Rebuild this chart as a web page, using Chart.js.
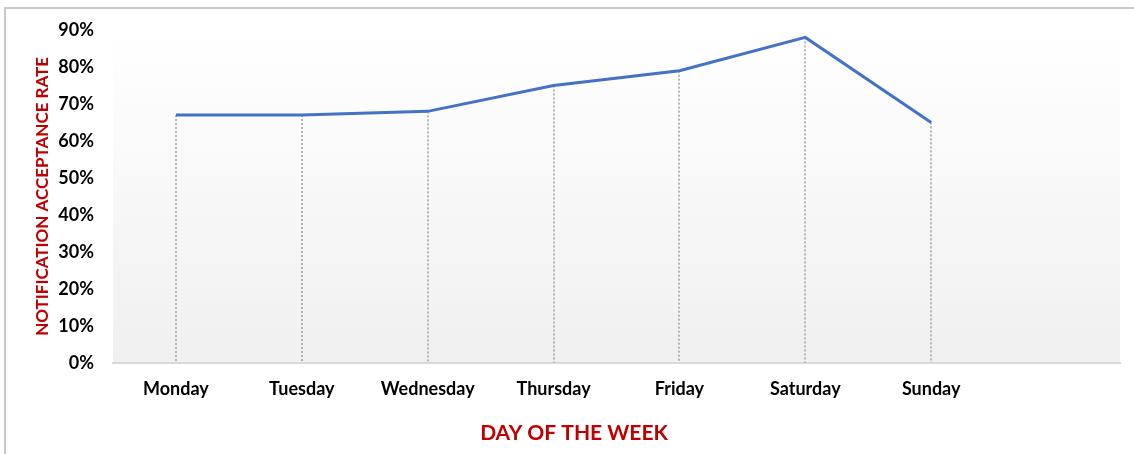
<!DOCTYPE html>
<html>
<head>
<meta charset="utf-8">
<script src="https://cdn.jsdelivr.net/npm/chart.js@4.4.1/dist/chart.umd.min.js"></script>
<style>
html,body{margin:0;padding:0;background:#fff;}
#wrap{width:1134px;height:454px;position:relative;}
</style>
</head>
<body>
<div id="wrap"><canvas id="c" width="1134" height="454"></canvas></div>
<script>
const categories = ['Monday','Tuesday','Wednesday','Thursday','Friday','Saturday','Sunday',''];
const acceptanceRate = [67, 67, 68, 75, 79, 88, 65, null];
const yTicks = [0,10,20,30,40,50,60,70,80,90];

const FONT = 'Lato, "Open Sans", sans-serif';

const bgPlugin = {
  id: 'bg',
  beforeDraw(chart) {
    const {ctx, chartArea: a} = chart;
    const g = ctx.createLinearGradient(0, a.top, 0, a.bottom);
    g.addColorStop(0, '#ffffff');
    g.addColorStop(1, '#f0f0f0');
    ctx.save();
    ctx.fillStyle = g;
    ctx.fillRect(a.left, a.top - 10, a.right - a.left, a.bottom - a.top + 10);
    ctx.restore();
  },
  afterDraw(chart) {
    const ctx = chart.ctx;
    ctx.save();
    ctx.strokeStyle = '#c8c8c8';
    ctx.lineWidth = 2;
    ctx.beginPath();
    ctx.moveTo(5, 454);
    ctx.lineTo(5, 8);
    ctx.lineTo(1134, 8);
    ctx.stroke();
    ctx.restore();
  }
};

const dropPlugin = {
  id: 'drop',
  beforeDatasetsDraw(chart) {
    const ctx = chart.ctx;
    const meta = chart.getDatasetMeta(0);
    const yBottom = chart.scales.y.getPixelForValue(0);
    ctx.save();
    ctx.strokeStyle = '#b4b4b4';
    ctx.lineWidth = 2;
    ctx.setLineDash([2, 2]);
    meta.data.forEach((pt, i) => {
      if (acceptanceRate[i] == null) return;
      ctx.beginPath();
      ctx.moveTo(Math.round(pt.x), pt.y);
      ctx.lineTo(Math.round(pt.x), yBottom);
      ctx.stroke();
    });
    ctx.restore();
  }
};

new Chart(document.getElementById('c'), {
  type: 'line',
  data: {
    labels: categories,
    datasets: [{
      data: acceptanceRate,
      borderColor: '#4472c4',
      borderWidth: 3,
      pointRadius: 0,
      pointHoverRadius: 0,
      tension: 0,
      fill: false
    }]
  },
  options: {
    responsive: false,
    animation: false,
    layout: { padding: { left: 28, right: 14, top: 30, bottom: 0 } },
    plugins: {
      legend: { display: false },
      tooltip: { enabled: false },
      title: {
        display: true,
        position: 'bottom',
        text: 'DAY OF THE WEEK',
        color: '#c00000',
        font: { family: FONT, size: 21, weight: 'bold' },
        padding: { top: 10, bottom: 8 }
      }
    },
    scales: {
      x: {
        offset: true,
        grid: { display: false, drawTicks: false },
        border: { display: true, color: '#d9d9d9', width: 2 },
        ticks: {
          color: '#000',
          font: { family: FONT, size: 18, weight: 'bold' },
          padding: 16,
          maxRotation: 0,
          autoSkip: false
        },
        afterFit(s) { s.height = 48; }
      },
      y: {
        min: 0,
        max: 90,
        afterBuildTicks(s) { s.ticks = yTicks.map(v => ({ value: v })); },
        grid: { display: false, drawTicks: false },
        border: { display: false },
        ticks: {
          color: '#000',
          font: { family: FONT, size: 18, weight: 'bold' },
          padding: 19,
          callback: v => v + '%'
        },
        title: {
          display: true,
          text: 'NOTIFICATION ACCEPTANCE RATE',
          color: '#c00000',
          font: { family: FONT, size: 17, weight: 'bold' },
          padding: { top: 4, bottom: 0 }
        },
        afterFit(s) { s.width = 85; }
      }
    }
  },
  plugins: [bgPlugin, dropPlugin]
});
</script>
</body>
</html>
